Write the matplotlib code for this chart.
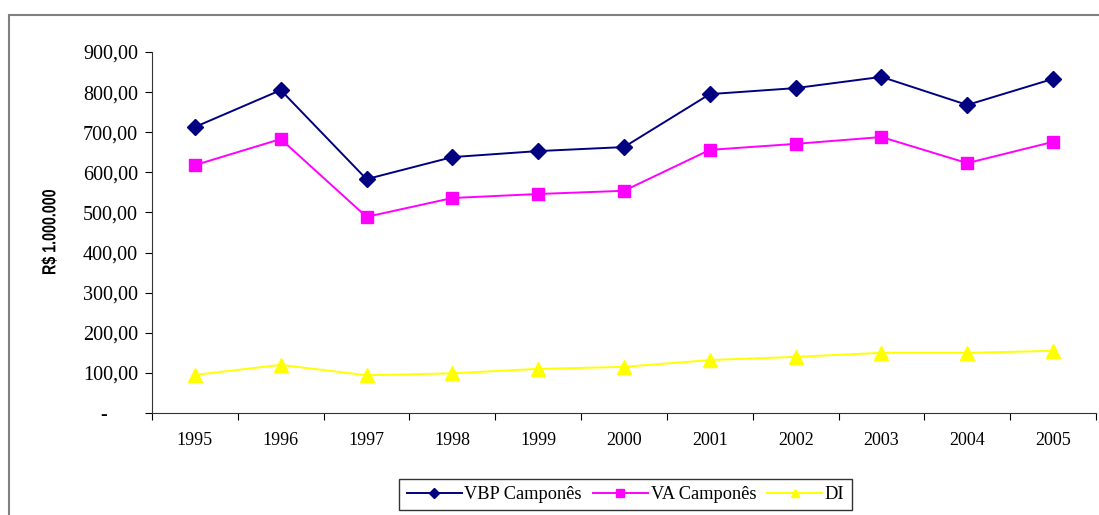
import matplotlib
matplotlib.use("Agg")
import matplotlib.pyplot as plt
from matplotlib.patches import Rectangle, PathPatch
from matplotlib.ticker import FixedLocator
from matplotlib.textpath import TextPath
from matplotlib.font_manager import FontProperties
from matplotlib.transforms import Affine2D

years = ["1995", "1996", "1997", "1998", "1999", "2000", "2001", "2002", "2003", "2004", "2005"]
vbp = [713, 805, 583, 638, 653, 663, 795, 810, 838, 768, 833]
va = [618, 683, 489, 536, 546, 554, 656, 671, 688, 623, 676]
di = [95, 120, 94, 99, 110, 115, 132, 140, 150, 150, 155]
yticks = [0, 100, 200, 300, 400, 500, 600, 700, 800, 900]
ytick_labels = ["-      ", "100,00", "200,00", "300,00", "400,00", "500,00", "600,00", "700,00", "800,00", "900,00"]
ylabel_text = "R$ 1.000.000"

W, H = 1099, 515
fig = plt.figure(figsize=(W / 100, H / 100), dpi=100)
fig.patch.set_facecolor("white")

# outer chart border
fig.add_artist(Rectangle((9 / W, -0.05), 1.2, (H - 15) / H + 0.05, transform=fig.transFigure,
                         fill=False, edgecolor="#808080", linewidth=1.5))

ax = fig.add_axes([152 / W, (H - 413) / H, (1096 - 152) / W, (413 - 52) / H])
x = list(range(len(years)))
ax.plot(x, vbp, color="#000080", marker="D", markersize=8, linewidth=1.4, label="VBP Camponês")
ax.plot(x, va, color="#FF00FF", marker="s", markersize=9, linewidth=1.4, label="VA Camponês")
ax.plot(x, di, color="#FFFF00", marker="^", markersize=10, linewidth=1.4, label="DI")

ax.set_xlim(-0.5, len(years) - 0.5)
ax.set_ylim(0, 900)
ax.set_yticks(yticks)
ax.set_yticklabels(ytick_labels, fontfamily="Liberation Serif", fontsize=14.5)
ax.xaxis.set_major_locator(FixedLocator([i - 0.5 for i in range(len(years) + 1)]))
ax.xaxis.set_minor_locator(FixedLocator(x))
ax.set_xticklabels([], minor=False)
ax.set_xticklabels(years, minor=True, fontfamily="Liberation Serif", fontsize=13)
ax.tick_params(axis="x", which="minor", length=0, pad=14)
ax.tick_params(axis="x", which="major", length=5, direction="out")
ax.tick_params(axis="y", length=5, direction="out", pad=5)
for s in ["top", "right"]:
    ax.spines[s].set_visible(False)
for s in ["left", "bottom"]:
    ax.spines[s].set_color("#333333")

# narrow bold y-axis label, drawn as a condensed text path (pixel coords)
fp = FontProperties(family="Liberation Sans", weight="bold")
tp = TextPath((0, 0), ylabel_text, size=19, prop=fp)
bb = tp.get_extents()
cx, cy = 49, H - 232  # centre in pixel coords (y from bottom)
tr = (Affine2D().translate(-(bb.x0 + bb.width / 2), -(bb.y0 + bb.height / 2))
      .scale(0.75, 1.0).rotate_deg(90).translate(cx, cy))
fig.add_artist(PathPatch(tr.transform_path(tp), facecolor="black", edgecolor="none",
                         transform=None))

leg = fig.legend(loc="center", bbox_to_anchor=(625.5 / W, 1 - 494.5 / H), ncol=3, frameon=True,
                 fancybox=False, edgecolor="black", prop={"family": "Liberation Serif", "size": 13.2},
                 handlelength=3.0, columnspacing=0.6, handletextpad=0.15, borderpad=0.4,
                 markerscale=0.6)
leg.get_frame().set_linewidth(1.0)

fig.savefig("out.png", dpi=100, facecolor="white")
